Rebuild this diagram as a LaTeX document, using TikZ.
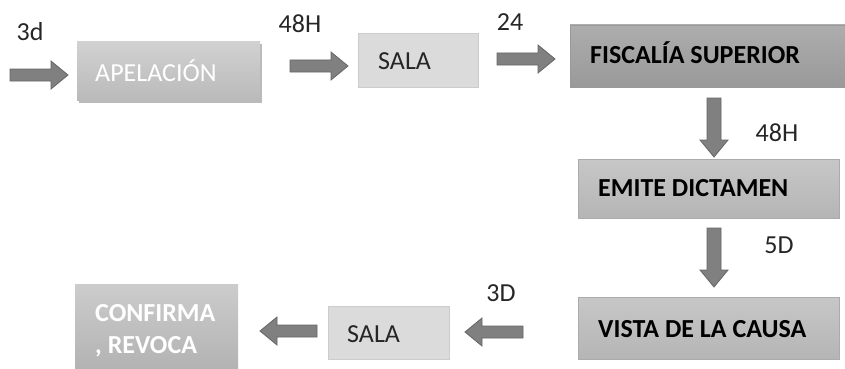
\documentclass[tikz,border=0pt]{standalone}
\usepackage{fontspec}
\setmainfont{Carlito}
\usetikzlibrary{shadows}
\definecolor{arrfill}{HTML}{808080}
\definecolor{arrdraw}{HTML}{666666}
\tikzset{
  blockarrow/.style={fill=arrfill, draw=arrdraw, line width=0.8pt, line join=miter},
  boxbase/.style={draw=none},
  lightbox/.style={fill=black!14, draw=black!20, line width=0.5pt},
  midbox/.style={top color=black!22, bottom color=black!29, draw=black!33, line width=0.5pt},
  darkbox/.style={top color=black!32, bottom color=black!40, draw=black!40, line width=0.5pt},
  softbox/.style={top color=black!18, bottom color=black!27},
  lab/.style={font=\fontsize{26}{28}\selectfont, text=black!85, inner sep=0pt},
  boxtext/.style={font=\fontsize{26}{28}\selectfont, anchor=west, inner sep=0pt},
}
% right-pointing block arrow: tail x, tip x, centre y
\newcommand{\arrR}[4]{%
  \path (#2,#4) coordinate (#1-tail) (#3,#4) coordinate (#1-tip);
  \draw[blockarrow] (#2,#4-6) -- (#3-17,#4-6) -- (#3-17,#4-14) -- (#3,#4) -- (#3-17,#4+14) -- (#3-17,#4+6) -- (#2,#4+6) -- cycle;}
\newcommand{\arrL}[4]{%
  \path (#2,#4) coordinate (#1-tail) (#3,#4) coordinate (#1-tip);
  \draw[blockarrow] (#2,#4-6) -- (#3+17,#4-6) -- (#3+17,#4-14) -- (#3,#4) -- (#3+17,#4+14) -- (#3+17,#4+6) -- (#2,#4+6) -- cycle;}
\newcommand{\arrD}[4]{%
  \path (#4,#2) coordinate (#1-tail) (#4,#3) coordinate (#1-tip);
  \draw[blockarrow] (#4-7,#2) -- (#4-7,#3-17) -- (#4-14,#3-17) -- (#4,#3) -- (#4+14,#3-17) -- (#4+7,#3-17) -- (#4+7,#2) -- cycle;}
\begin{document}
\begin{tikzpicture}[x=1pt, y=-1pt]
\useasboundingbox (0,0) rectangle (845,369);
\fill[white] (0,0) rectangle (845,369);

% boxes
\path[softbox, drop shadow={shadow xshift=1.5pt, shadow yshift=-2.5pt, fill=black!45, opacity=0.6}]
  (77,42) rectangle (260,100);
\node[boxtext, text=white] (apel) at (95,71) {APELACIÓN};

\path[lightbox] (358,33) rectangle (478,87);
\node[boxtext, text=black!85] (sala1) at (378,61) {SALA};

\path[darkbox] (570,25) rectangle (846,87);
\node[boxtext, text=black, font=\fontsize{26}{28}\selectfont\bfseries] (fisc) at (590,53) {FISCALÍA SUPERIOR};

\path[midbox] (578,159) rectangle (839,218);
\node[boxtext, text=black, font=\fontsize{26}{28}\selectfont\bfseries] (emite) at (598,188) {EMITE DICTAMEN};

\path[midbox] (578,297) rectangle (839,359);
\node[boxtext, text=black, font=\fontsize{26}{28}\selectfont\bfseries] (vista) at (598,329) {VISTA DE LA CAUSA};

\path[lightbox] (328,306) rectangle (449,359);
\node[boxtext, text=black!85] (sala2) at (347,334) {SALA};

\path[top color=black!20, bottom color=black!30] (75,284) rectangle (238,370);
\node[boxtext, text=white, font=\fontsize{26}{32}\selectfont\bfseries, align=left] (conf) at (95,331) {CONFIRMA\\, REVOCA};

% arrows
\arrR{a0}{10}{68}{75}
\arrR{a1}{290}{348}{66}
\arrR{a2}{497}{555}{59}
\arrD{d1}{98}{157}{714}
\arrD{d2}{228}{287}{714}
\arrL{l1}{523}{465}{332}
\arrL{l2}{317}{260}{331}

% labels
\node[lab] (t3d) at (30,32) {3d};
\node[lab] (t48a) at (300,24) {48H};
\node[lab] (t24) at (510,22) {24};
\node[lab] (t48b) at (777,133) {48H};
\node[lab] (t5d) at (779,245) {5D};
\node[lab] (t3D) at (501,293) {3D};
\end{tikzpicture}
\end{document}
